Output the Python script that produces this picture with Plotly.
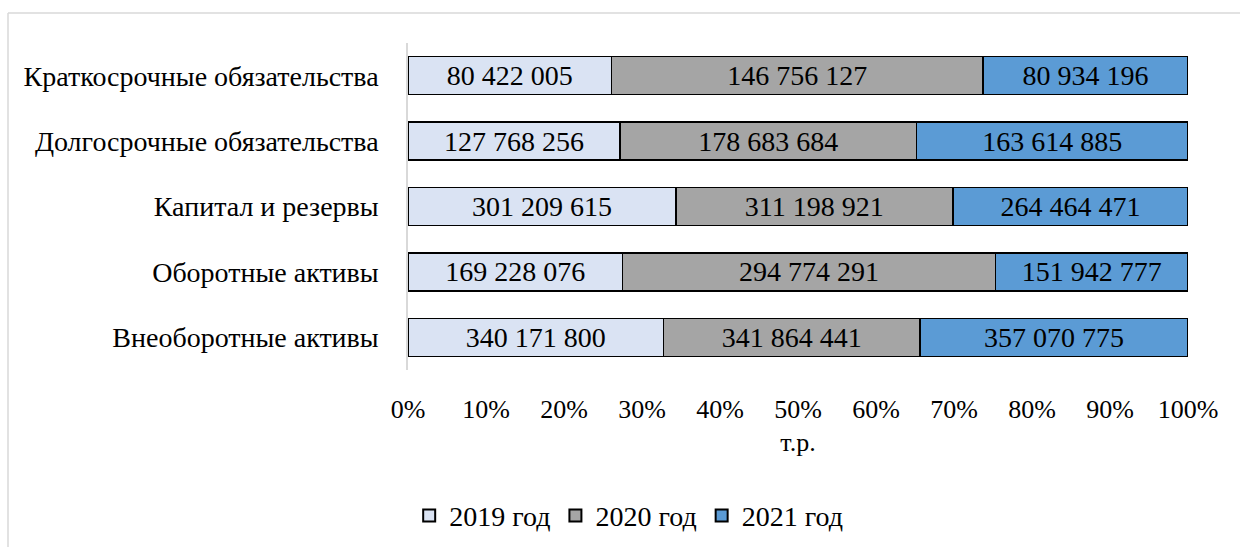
import plotly.graph_objects as go

categories = ["Краткосрочные обязательства", "Долгосрочные обязательства", "Капитал и резервы",
              "Оборотные активы", "Внеоборотные активы"]
series_names = ["2019 год", "2020 год", "2021 год"]
v2019 = [80422005, 127768256, 301209615, 169228076, 340171800]
v2020 = [146756127, 178683684, 311198921, 294774291, 341864441]
v2021 = [80934196, 163614885, 264464471, 151942777, 357070775]
colors = ["#DAE3F3", "#A5A5A5", "#5B9BD5"]
tick_vals = [0, 10, 20, 30, 40, 50, 60, 70, 80, 90, 100]
tick_text = [f"{t}%" for t in tick_vals]

FONT = "Times New Roman, Liberation Serif, serif"
FS = 28
FT = 26

def fmt(v):
    return f"{v:,}".replace(",", " ")

fig = go.Figure()
for name, vals, col in zip(series_names, [v2019, v2020, v2021], colors):
    fig.add_trace(go.Bar(
        y=categories, x=vals, name=name, orientation="h",
        marker=dict(color=col, line=dict(color="black", width=1.5)),
        text=[fmt(v) for v in vals], textposition="inside", insidetextanchor="middle",
        textfont=dict(family=FONT, size=FS, color="black"),
        constraintext="none", width=0.58,
    ))

L, R, T, B = 408, 52, 43, 177
W, H = 1240, 547
pw, ph = W - L - R, H - T - B

def px(x):
    return (x - L) / pw

def py(y):
    return (H - B - y) / ph

fig.update_layout(
    barmode="stack", barnorm="percent",
    width=W, height=H,
    margin=dict(l=L, r=R, t=T, b=B),
    paper_bgcolor="white", plot_bgcolor="white",
    font=dict(family=FONT, size=FS, color="black"),
    uniformtext=dict(mode=False),
    legend=dict(orientation="h", xref="container", x=0.507, xanchor="center",
                yref="container", y=0.057, yanchor="middle",
                font=dict(family=FONT, size=FS), traceorder="normal",
                itemwidth=30, itemsizing="constant"),
    xaxis=dict(range=[0, 100], tickmode="array", tickvals=tick_vals, ticktext=tick_text,
               showgrid=False, zeroline=False, showline=False, ticks="", ticklabelstandoff=21,
               tickfont=dict(family=FONT, size=FT),
               title=dict(text="т.р.", font=dict(family=FONT, size=FT), standoff=9)),
    yaxis=dict(categoryorder="array", categoryarray=categories[::-1], showgrid=False,
               showline=True, linecolor="#D9D9D9", linewidth=1.5, ticks="",
               ticklabelstandoff=22, tickfont=dict(family=FONT, size=FS)),
    shapes=[
        dict(type="line", xref="paper", yref="paper", x0=px(8), x1=px(1245), y0=py(13), y1=py(13),
             line=dict(color="#D9D9D9", width=1.5)),
        dict(type="line", xref="paper", yref="paper", x0=px(8), x1=px(8), y0=py(13), y1=py(550),
             line=dict(color="#D9D9D9", width=1.5)),
    ],
)

fig.write_html("out.html")
